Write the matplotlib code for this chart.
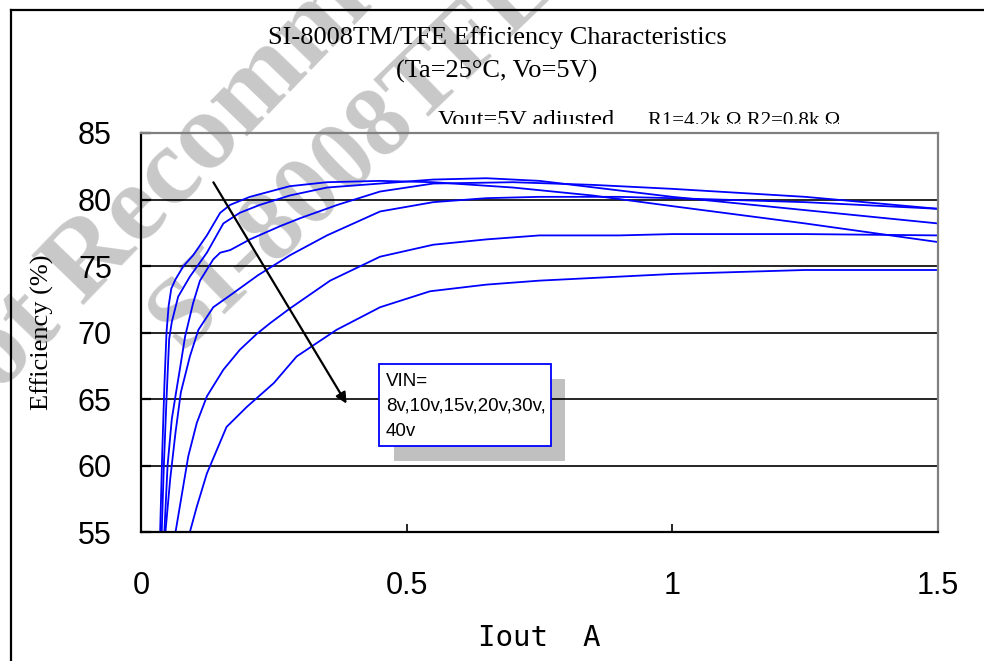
import matplotlib
matplotlib.use("Agg")
import matplotlib.pyplot as plt
from matplotlib.patches import Rectangle
from matplotlib.lines import Line2D

# ---------------- data ----------------
vin_labels = ["8v", "10v", "15v", "20v", "30v", "40v"]

x_8v = [0.036, 0.040, 0.044, 0.048, 0.052, 0.057, 0.065, 0.080, 0.098, 0.124, 0.149,
        0.168, 0.205, 0.28, 0.35, 0.45, 0.55, 0.70, 0.85, 1.0, 1.25, 1.5]
y_8v = [55, 61, 66, 70, 72, 73.3, 74.0, 75.0, 75.8, 77.3, 79.0,
        79.6, 80.2, 81.0, 81.3, 81.4, 81.3, 80.9, 80.3, 79.5, 78.2, 76.8]

x_10v = [0.039, 0.043, 0.048, 0.053, 0.058, 0.070, 0.092, 0.124, 0.155, 0.186, 0.224,
         0.28, 0.35, 0.45, 0.55, 0.65, 0.75, 1.0, 1.25, 1.5]
y_10v = [55, 60, 65, 69.5, 70.8, 72.7, 74.2, 76.0, 78.2, 79.0, 79.6,
         80.3, 80.9, 81.2, 81.5, 81.6, 81.4, 80.2, 79.2, 78.2]

x_15v = [0.044, 0.050, 0.058, 0.066, 0.073, 0.083, 0.098, 0.111, 0.136, 0.149, 0.168,
         0.205, 0.262, 0.30, 0.37, 0.45, 0.55, 0.70, 0.85, 1.0, 1.25, 1.5]
y_15v = [55, 60, 63.5, 65.5, 67.2, 69.7, 72.2, 73.9, 75.5, 76.0, 76.2,
         77.0, 78.0, 78.6, 79.6, 80.6, 81.2, 81.3, 81.1, 80.8, 80.2, 79.3]

x_20v = [0.046, 0.055, 0.065, 0.075, 0.092, 0.108, 0.136, 0.168, 0.22, 0.28, 0.35,
         0.45, 0.55, 0.65, 0.75, 0.9, 1.0, 1.25, 1.5]
y_20v = [55, 59, 62.5, 65.5, 68.2, 70.2, 71.9, 72.8, 74.3, 75.8, 77.3,
         79.1, 79.8, 80.1, 80.2, 80.2, 80.1, 79.8, 79.3]

x_30v = [0.065, 0.073, 0.089, 0.105, 0.124, 0.155, 0.186, 0.218, 0.243, 0.28, 0.356,
         0.45, 0.55, 0.65, 0.75, 0.9, 1.0, 1.25, 1.5]
y_30v = [55, 56.9, 60.7, 63.2, 65.2, 67.2, 68.7, 69.9, 70.7, 71.8, 73.9,
         75.7, 76.6, 77.0, 77.3, 77.3, 77.4, 77.4, 77.3]

x_40v = [0.092, 0.105, 0.124, 0.161, 0.199, 0.25, 0.293, 0.368, 0.45, 0.544, 0.65,
         0.75, 1.0, 1.25, 1.5]
y_40v = [55, 56.9, 59.4, 62.9, 64.4, 66.2, 68.2, 70.2, 71.9, 73.1, 73.6,
         73.9, 74.4, 74.7, 74.7]

x_ticks = [0, 0.5, 1, 1.5]
x_tick_labels = ["0", "0.5", "1", "1.5"]
y_ticks = [55, 60, 65, 70, 75, 80, 85]

arrow_start = (0.1336, 81.47)
arrow_end = (0.3896, 64.47)

# ---------------- figure ----------------
W, H = 984, 661
fig = plt.figure(figsize=(W / 100, H / 100), dpi=100)
fig.patch.set_facecolor("white")

def fx(px):
    return px / W

def fy(py):
    return 1 - py / H

ax = fig.add_axes([fx(141), fy(532), fx(938 - 141), (532 - 133) / H])
ax.set_xlim(0, 1.5)
ax.set_ylim(55, 85)

series = [(x_8v, y_8v), (x_10v, y_10v), (x_15v, y_15v),
          (x_20v, y_20v), (x_30v, y_30v), (x_40v, y_40v)]
for xs, ys in series:
    ax.plot(xs, ys, color="#0000FF", lw=1.3, zorder=2, clip_on=False)

for yv in y_ticks[1:-1]:
    ax.axhline(yv, color="black", lw=1.2, zorder=1)

for side in ["left", "bottom"]:
    ax.spines[side].set_color("black")
    ax.spines[side].set_linewidth(1.6)
for side in ["top", "right"]:
    ax.spines[side].set_color("#808080")
    ax.spines[side].set_linewidth(1.6)

ax.set_xticks(x_ticks)
ax.set_xticklabels(x_tick_labels, fontname="Liberation Sans", fontsize=22)
ax.set_yticks(y_ticks)
ax.set_yticklabels([str(v) for v in y_ticks], fontname="Liberation Sans", fontsize=22)
ax.tick_params(axis="y", direction="in", length=7, width=1.6, pad=21)
ax.tick_params(axis="x", direction="in", length=6, width=1.2, pad=28)

ax.set_xlabel("Iout  A", fontname="DejaVu Sans Mono", fontsize=21, labelpad=17)
ax.set_ylabel("Efficiency (%)", fontname="Liberation Serif", fontsize=19, labelpad=17)

# arrow
ax.annotate("", xy=arrow_end, xytext=arrow_start,
            arrowprops=dict(arrowstyle="-|>", color="black", lw=1.6, mutation_scale=16),
            zorder=3)

# legend-like box with shadow
shadow = Rectangle((fx(394), fy(461)), fx(565 - 394), (461 - 379) / H,
                   transform=fig.transFigure, facecolor="#C0C0C0", edgecolor="none",
                   zorder=0.8)
ax.add_artist(shadow)
shadow.set_clip_on(False)
box = Rectangle((fx(379), fy(446)), fx(551 - 379), (446 - 364) / H,
                transform=fig.transFigure, facecolor="white", edgecolor="#0000FF",
                lw=1.3, zorder=3)
ax.add_artist(box)
box.set_clip_on(False)
legend_lines = ["VIN=", ",".join(vin_labels[:5]) + ",", vin_labels[5]]
for i, t in enumerate(legend_lines):
    ax.text(fx(386), fy(381 + 25 * i), t, transform=fig.transFigure,
            fontname="Liberation Sans", fontsize=13.5, va="center", ha="left",
            zorder=4, clip_on=False)

# watermark
wm_kw = dict(transform=fig.transFigure, color="#C8C8C8", fontname="Liberation Serif",
             fontweight="bold", rotation_mode="anchor", ha="left",
             va="baseline", zorder=0.5, clip_on=False)
ax.text(fx(-57), fy(451), "Not Recommended", fontsize=80, rotation=46, **wm_kw)
ax.text(fx(181), fy(351), "SI-8008TFE", fontsize=72, rotation=44, **wm_kw)

# titles
fig.text(fx(497), fy(38), "SI-8008TM/TFE Efficiency Characteristics",
         fontname="Liberation Serif", fontsize=19, ha="center", va="center")
fig.text(fx(497), fy(71), "(Ta=25°C, Vo=5V)",
         fontname="Liberation Serif", fontsize=19, ha="center", va="center")
fig.text(fx(438), fy(126), "Vout=5V adjusted", fontname="Liberation Serif",
         fontsize=17.5, ha="left", va="baseline", zorder=-2)
fig.text(fx(648), fy(126), "R1=4.2k Ω,R2=0.8k Ω", fontname="Liberation Serif",
         fontsize=15, ha="left", va="baseline", zorder=-2)
fig.patches.append(Rectangle((fx(420), fy(133)), fx(450), (133 - 124) / H,
                             transform=fig.transFigure, facecolor="white",
                             edgecolor="none", zorder=-1))

# outer frame (left and top edges visible)
fig.add_artist(Line2D([fx(11), fx(11)], [0, fy(10)], transform=fig.transFigure,
                      color="black", lw=1.6))
fig.add_artist(Line2D([fx(11), 1], [fy(10), fy(10)], transform=fig.transFigure,
                      color="black", lw=1.6))

fig.savefig("out.png", dpi=100)
